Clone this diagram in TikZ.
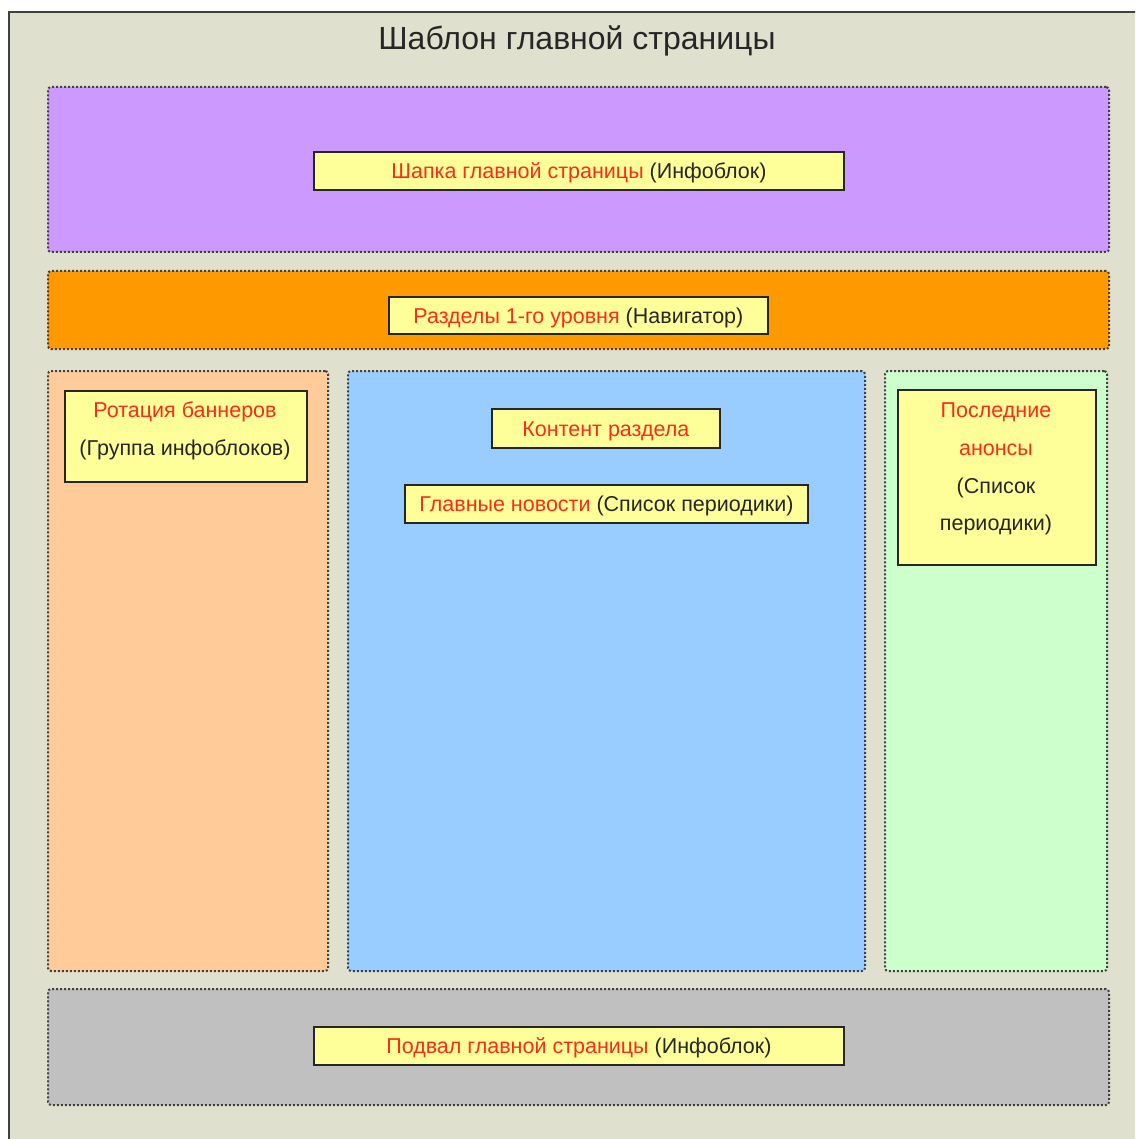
\documentclass[tikz,border=0pt]{standalone}
\usepackage{fontspec}
\setmainfont{Liberation Sans}
\definecolor{framebg}{HTML}{DFE0CE}
\definecolor{violetbg}{HTML}{CC99FF}
\definecolor{orangebg}{HTML}{FF9900}
\definecolor{peachbg}{HTML}{FFCC99}
\definecolor{bluebg}{HTML}{99CCFF}
\definecolor{greenbg}{HTML}{CCFFCC}
\definecolor{greybg}{HTML}{C0C0C0}
\definecolor{yfill}{HTML}{FFFF99}
\definecolor{redtxt}{HTML}{FF2A1A}
\definecolor{darktxt}{HTML}{262626}
\begin{document}
\begin{tikzpicture}[x=1pt,y=-1pt,
  region/.style={draw=black!75, line width=2pt, dash pattern=on 2pt off 2pt,
    rounded corners=3pt, anchor=north west, inner sep=0pt},
  ibox/.style={draw=black!85, line width=1.8pt, fill=yfill, anchor=north west, inner sep=0pt,
    align=center, font=\fontsize{21.5}{37}\selectfont, text=darktxt,
    text height=17pt, text depth=1pt,
    preaction={fill=black!35, transform canvas={shift={(1.5pt,-1.5pt)}}}},
  itext/.style={align=center, font=\fontsize{21.5}{37.7}\selectfont, text=darktxt, inner sep=0pt},
  rd/.style={text=redtxt}
]
\useasboundingbox (0,0) rectangle (1135,1139);
\clip (0,0) rectangle (1135,1139);
\fill[white] (0,0) rectangle (1135,1139);
\node[draw=black!75, line width=2pt, fill=framebg, anchor=north west, inner sep=0pt,
  minimum width=1140pt, minimum height=1140pt] (frame) at (8,11) {};
\node[font=\fontsize{32}{36}\selectfont, text=black!85] (title) at (577,41) {Шаблон главной страницы};

% regions
\node[region, fill=violetbg, minimum width=1061pt, minimum height=165pt] (hdrreg) at (47,86) {};
\node[region, fill=orangebg, minimum width=1061pt, minimum height=78pt] (navreg) at (47,270) {};
\node[region, fill=peachbg, minimum width=280pt, minimum height=600pt] (leftreg) at (47,370) {};
\node[region, fill=bluebg, minimum width=517pt, minimum height=600pt] (midreg) at (347,370) {};
\node[region, fill=greenbg, minimum width=222pt, minimum height=600pt] (rightreg) at (884,370) {};
\node[region, fill=greybg, minimum width=1061pt, minimum height=116pt] (footreg) at (47,988) {};

% yellow boxes
\node[ibox, minimum width=530pt, minimum height=38pt] (hdr) at (313,151)
  {\textcolor{redtxt}{Шапка главной страницы} (Инфоблок)};
\node[ibox, minimum width=379pt, minimum height=37pt] (nav) at (388,296)
  {\textcolor{redtxt}{Разделы 1-го уровня} (Навигатор)};
\node[ibox, minimum width=242pt, minimum height=91pt] (ban) at (64,390) {};
\node[itext] (bantxt) at (185,431) {\textcolor{redtxt}{Ротация баннеров}\\(Группа инфоблоков)};
\node[ibox, minimum width=228pt, minimum height=39pt] (cont) at (491,408)
  {\textcolor{redtxt}{Контент раздела}};
\node[ibox, minimum width=403pt, minimum height=38pt] (news) at (404,484)
  {\textcolor{redtxt}{Главные новости} (Список периодики)};
\node[ibox, minimum width=198pt, minimum height=175pt] (ann) at (897,389) {};
\node[itext] (anntxt) at (996,469) {\textcolor{redtxt}{Последние}\\\textcolor{redtxt}{анонсы}\\(Список\\периодики)};
\node[ibox, minimum width=530pt, minimum height=38pt] (foot) at (313,1026)
  {\textcolor{redtxt}{Подвал главной страницы} (Инфоблок)};
\end{tikzpicture}
\end{document}
